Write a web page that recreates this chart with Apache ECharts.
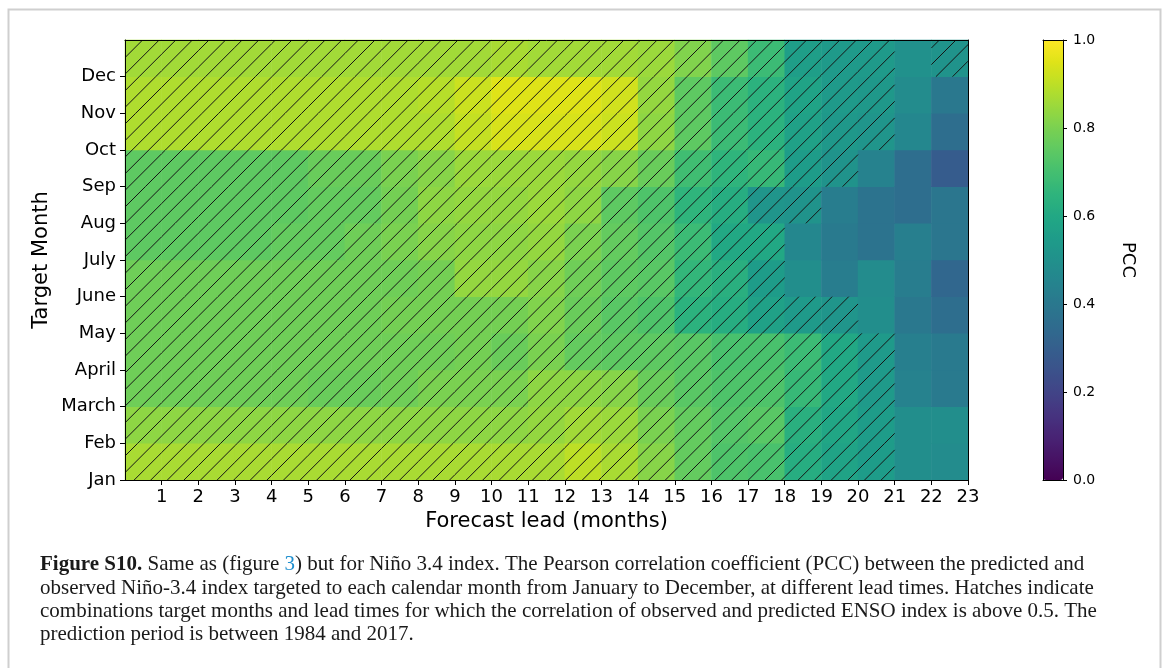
<!DOCTYPE html>
<html><head><meta charset="utf-8">
<script src="https://cdn.jsdelivr.net/npm/echarts@6/dist/echarts.min.js"></script>
<style>html,body{margin:0;padding:0;background:#fff}#c{width:1165px;height:668px}</style>
</head><body><div id="c"></div><script>
// ---- data ----
const leadLabels = ['1','2','3','4','5','6','7','8','9','10','11','12','13','14','15','16','17','18','19','20','21','22','23'];
const monthLabels = ['Jan','Feb','March','April','May','June','July','Aug','Sep','Oct','Nov','Dec'];
// PCC per target month (row) across 23 lead columns
const pccJan   = [0.87,0.87,0.87,0.87,0.87,0.87,0.87,0.87,0.87,0.87,0.87,0.87,0.90,0.87,0.82,0.76,0.72,0.71,0.62,0.58,0.55,0.49,0.48];
const pccFeb   = [0.83,0.83,0.83,0.83,0.83,0.83,0.83,0.83,0.83,0.83,0.83,0.84,0.86,0.85,0.80,0.76,0.73,0.74,0.63,0.59,0.55,0.49,0.49];
const pccMarch = [0.78,0.78,0.78,0.78,0.78,0.77,0.77,0.78,0.80,0.80,0.80,0.83,0.83,0.82,0.77,0.74,0.72,0.72,0.67,0.60,0.54,0.44,0.41];
const pccApril = [0.78,0.78,0.78,0.78,0.78,0.78,0.78,0.78,0.78,0.79,0.77,0.80,0.76,0.75,0.75,0.74,0.71,0.71,0.68,0.60,0.54,0.43,0.41];
const pccMay   = [0.78,0.78,0.78,0.78,0.78,0.78,0.78,0.79,0.79,0.79,0.79,0.81,0.77,0.74,0.72,0.64,0.62,0.57,0.54,0.52,0.49,0.40,0.36];
const pccJune  = [0.78,0.78,0.78,0.78,0.78,0.78,0.78,0.78,0.79,0.84,0.84,0.82,0.78,0.75,0.74,0.66,0.63,0.55,0.49,0.42,0.48,0.42,0.33];
const pccJuly  = [0.75,0.75,0.75,0.75,0.76,0.76,0.78,0.80,0.82,0.83,0.83,0.84,0.80,0.76,0.73,0.68,0.60,0.60,0.46,0.41,0.38,0.43,0.39];
const pccAug   = [0.75,0.75,0.75,0.75,0.75,0.76,0.76,0.79,0.83,0.84,0.84,0.85,0.83,0.75,0.72,0.65,0.62,0.52,0.51,0.42,0.38,0.36,0.39];
const pccSep   = [0.75,0.75,0.75,0.75,0.75,0.77,0.77,0.80,0.82,0.85,0.85,0.85,0.84,0.82,0.77,0.69,0.65,0.67,0.55,0.51,0.44,0.36,0.29];
const pccOct   = [0.88,0.88,0.88,0.88,0.88,0.88,0.88,0.88,0.88,0.91,0.94,0.94,0.94,0.92,0.83,0.75,0.68,0.64,0.57,0.53,0.52,0.46,0.36];
const pccNov   = [0.88,0.88,0.88,0.88,0.88,0.88,0.88,0.88,0.89,0.92,0.95,0.95,0.95,0.93,0.84,0.75,0.68,0.64,0.58,0.54,0.53,0.48,0.40];
const pccDec   = [0.86,0.86,0.86,0.86,0.86,0.86,0.86,0.86,0.86,0.86,0.87,0.86,0.86,0.86,0.85,0.81,0.75,0.68,0.56,0.54,0.54,0.50,0.51];
const colorbarTicks = [0, 0.2, 0.4, 0.6, 0.8, 1.0];
const hatchThreshold = 0.5;

const rows = [pccJan,pccFeb,pccMarch,pccApril,pccMay,pccJune,pccJuly,pccAug,pccSep,pccOct,pccNov,pccDec];
const heatData = [], hatchData = [];
rows.forEach((r, m) => r.forEach((v, c) => {
  heatData.push([c, m, v]);
  if (v > hatchThreshold) hatchData.push([c, m]);
}));

const viridis = ['#440154','#471365','#482475','#463480','#414487','#3b528b','#355f8d','#2f6c8e','#2a788e','#25848e','#21918c','#1e9c89','#22a884','#2fb47c','#44bf70','#5ec962','#7ad151','#9bd93c','#bddf26','#dfe318','#fde725'];

function renderHatch(params, api) {
  const c = api.coord([api.value(0), api.value(1)]);
  const s = api.size([1, 1]);
  const x0 = c[0] - s[0] / 2, x1 = c[0] + s[0] / 2, y0 = c[1] - s[1] / 2, y1 = c[1] + s[1] / 2;
  const sp = 16.6;
  const children = [];
  for (let k = Math.ceil((x0 + y0) / sp); k * sp <= x1 + y1; k++) {
    const cc = k * sp;
    const xa = Math.max(x0, cc - y1), xb = Math.min(x1, cc - y0);
    if (xb - xa > 0.05) children.push({type: 'line', shape: {x1: xa, y1: cc - xa, x2: xb, y2: cc - xb}, style: {stroke: '#151515', lineWidth: 1}});
  }
  return {type: 'group', children};
}

const FONT = 'DejaVu Sans';
const SERIF = 'Liberation Serif';
const CAP = 21;
const lineOnly = (extra) => Object.assign({type: 'value', axisLine: {show: true, onZero: false, lineStyle: {color: '#000', width: 1}}, axisTick: {show: false}, axisLabel: {show: false}, splitLine: {show: false}, z: 10}, extra);
const range = (a, b) => { const o = []; for (let i = a; i <= b; i++) o.push(i); return o; };
const capStyle = (t, extra) => Object.assign({text: t, fontFamily: SERIF, fontSize: CAP, fill: '#1a1a1a'}, extra || {});

const chart = echarts.init(document.getElementById('c'), null, {renderer: 'canvas'});
chart.setOption({
  backgroundColor: '#fff',
  animation: false,
  grid: [
    {left: 125, top: 40, width: 843, height: 440},
    {left: 1043, top: 40, width: 20, height: 440}
  ],
  xAxis: [
    {type: 'category', gridIndex: 0, data: leadLabels, show: false},
    {type: 'value', gridIndex: 0, min: 0, max: 23, interval: 1, position: 'bottom', z: 10,
      axisLine: {show: true, onZero: false, lineStyle: {color: '#000', width: 1}},
      axisTick: {show: true, length: 5, lineStyle: {color: '#000'}, customValues: range(1, 23)},
      axisLabel: {show: true, margin: 8, color: '#000', fontSize: 18, fontFamily: FONT, customValues: range(1, 23),
        formatter: v => (v >= 1 && v <= 23) ? leadLabels[v - 1] : ''},
      splitLine: {show: false},
      name: 'Forecast lead (months)', nameLocation: 'middle', nameGap: 31,
      nameTextStyle: {fontSize: 21, fontFamily: FONT, color: '#000'}},
    lineOnly({gridIndex: 0, min: 0, max: 23, position: 'top'}),
    lineOnly({gridIndex: 1, min: 0, max: 1, position: 'bottom'}),
    lineOnly({gridIndex: 1, min: 0, max: 1, position: 'top'})
  ],
  yAxis: [
    {type: 'category', gridIndex: 0, data: monthLabels, show: false},
    {type: 'value', gridIndex: 0, min: 0, max: 12, interval: 1, position: 'left', z: 10,
      axisLine: {show: true, onZero: false, lineStyle: {color: '#000', width: 1}},
      axisTick: {show: true, length: 5, lineStyle: {color: '#000'}, customValues: range(0, 11)},
      axisLabel: {show: true, margin: 9, color: '#000', fontSize: 18, fontFamily: FONT, customValues: range(0, 11),
        formatter: v => (v >= 0 && v <= 11) ? monthLabels[v] : ''},
      splitLine: {show: false},
      name: 'Target Month', nameLocation: 'middle', nameGap: 73, nameMoveOverlap: false,
      nameTextStyle: {fontSize: 21, fontFamily: FONT, color: '#000'}},
    lineOnly({gridIndex: 0, min: 0, max: 12, position: 'right'}),
    {type: 'value', gridIndex: 1, min: 0, max: 1, interval: 0.2, position: 'right', z: 10,
      axisLine: {show: true, onZero: false, lineStyle: {color: '#000', width: 1}},
      axisTick: {show: true, length: 4, lineStyle: {color: '#000'}, customValues: colorbarTicks},
      axisLabel: {show: true, margin: 10, color: '#000', fontSize: 14, fontFamily: FONT, customValues: colorbarTicks,
        formatter: v => v.toFixed(1)},
      splitLine: {show: false},
      name: 'PCC', nameLocation: 'middle', nameRotate: -90, nameGap: 56,
      nameTextStyle: {fontSize: 18, fontFamily: FONT, color: '#000'}},
    lineOnly({gridIndex: 1, min: 0, max: 1, position: 'left'})
  ],
  visualMap: {
    type: 'continuous', seriesIndex: 0, min: 0, max: 1, calculable: false, hoverLink: false,
    orient: 'vertical', left: 1043, top: 40, itemWidth: 20, itemHeight: 440, padding: 0,
    inRange: {color: viridis}
  },
  series: [
    {type: 'heatmap', xAxisIndex: 0, yAxisIndex: 0, data: heatData, silent: true, progressive: 0,
      emphasis: {disabled: true}},
    {type: 'custom', xAxisIndex: 0, yAxisIndex: 0, data: hatchData, renderItem: renderHatch, silent: true, z: 4, clip: true}
  ],
  graphic: [
    {type: 'rect', left: 6, top: 7, shape: {width: 1152, height: 700}, style: {fill: 'none', stroke: '#cfcfcf', lineWidth: 2}, silent: true},
    {type: 'text', left: 40, top: 554, style: capStyle('{b|Figure S10.} Same as (figure {l|3}) but for Niño 3.4 index. The Pearson correlation coefficient (PCC) between the predicted and',
      {rich: {b: {fontWeight: 'bold', fontFamily: SERIF, fontSize: CAP, fill: '#1a1a1a'}, l: {fontFamily: SERIF, fontSize: CAP, fill: '#1f8fcf'}}})},
    {type: 'text', left: 40, top: 578, style: capStyle('observed Niño-3.4 index targeted to each calendar month from January to December, at different lead times. Hatches indicate')},
    {type: 'text', left: 40, top: 601, style: capStyle('combinations target months and lead times for which the correlation of observed and predicted ENSO index is above 0.5. The')},
    {type: 'text', left: 40, top: 624, style: capStyle('prediction period is between 1984 and 2017.')}
  ]
});
</script></body></html>
